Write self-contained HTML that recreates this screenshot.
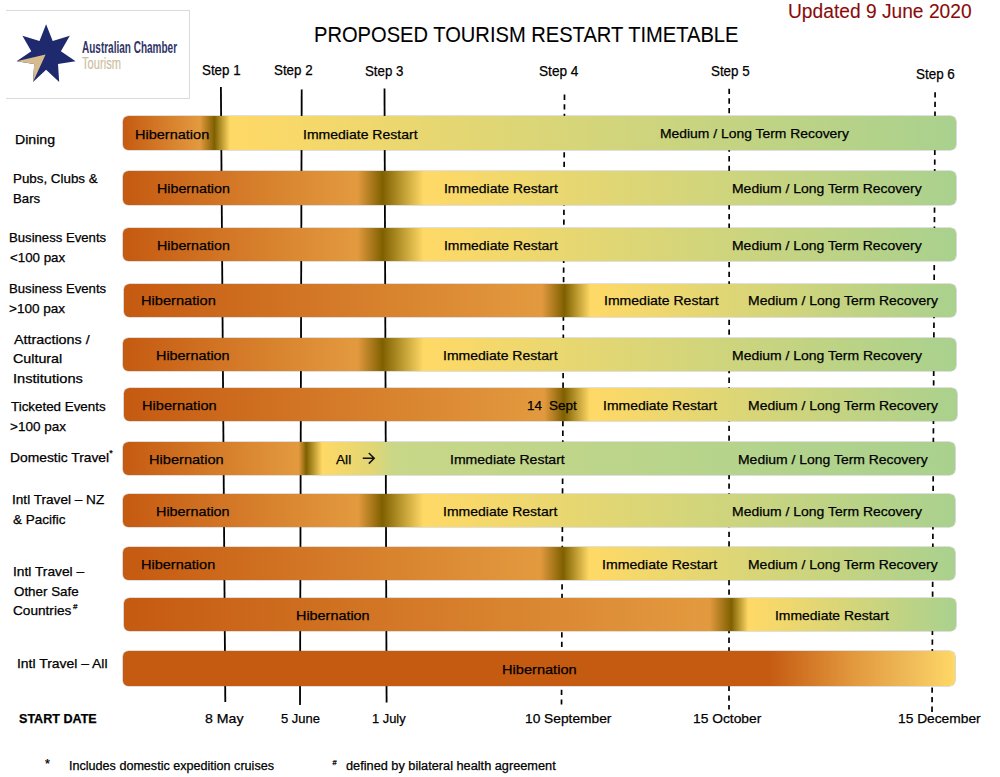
<!DOCTYPE html>
<html><head><meta charset="utf-8"><style>
html,body{margin:0;padding:0;background:#fff;width:1000px;height:777px;overflow:hidden;position:relative}
.t{position:absolute;font-family:"Liberation Sans", sans-serif;line-height:1;white-space:nowrap;color:#000;transform-origin:0 0;-webkit-text-stroke:0.25px currentColor}
.bar{position:absolute;border-radius:5.5px;box-shadow:0 0 0 0.6px rgba(110,110,110,0.45)}
</style></head><body>
<svg width="1000" height="777" style="position:absolute;left:0;top:0"><line x1="220.9" y1="87" x2="225.3" y2="702" stroke="#000" stroke-width="1.8"/><line x1="301.7" y1="89.5" x2="300" y2="705" stroke="#000" stroke-width="1.8"/><line x1="384.5" y1="88.5" x2="386.6" y2="702.5" stroke="#000" stroke-width="1.8"/><line x1="564.5" y1="94.6" x2="561.5" y2="704.5" stroke="#000" stroke-width="1.7" stroke-dasharray="5.3 4.30"/><line x1="729.2" y1="88.7" x2="729" y2="709.5" stroke="#000" stroke-width="1.7" stroke-dasharray="5.3 4.33"/><line x1="935.1" y1="92.2" x2="932" y2="716" stroke="#000" stroke-width="1.7" stroke-dasharray="5.3 4.30"/></svg><div class="bar" style="left:123px;top:116.4px;width:832.5px;height:33.4px;background:linear-gradient(90deg,#C55A11 0.0px,#E39A3F 77.0px,#7F6000 91.5px,#FFD966 107.0px,#A9D18E 833.0px)"></div><div class="bar" style="left:122.5px;top:171px;width:833.0px;height:33.8px;background:linear-gradient(90deg,#C55A11 0.0px,#E39A3F 234.5px,#7F6000 259.5px,#FFD966 300.5px,#A9D18E 833.5px)"></div><div class="bar" style="left:122.5px;top:228.2px;width:833.0px;height:33.3px;background:linear-gradient(90deg,#C55A11 0.0px,#E39A3F 234.5px,#7F6000 259.5px,#FFD966 300.5px,#A9D18E 833.5px)"></div><div class="bar" style="left:123.5px;top:283.5px;width:832.5px;height:33.5px;background:linear-gradient(90deg,#C55A11 0.0px,#E39A3F 417.5px,#7F6000 440.5px,#FFD966 466.5px,#A9D18E 833.0px)"></div><div class="bar" style="left:122.5px;top:337.6px;width:833.0px;height:33.4px;background:linear-gradient(90deg,#C55A11 0.0px,#E39A3F 234.5px,#7F6000 259.5px,#FFD966 300.5px,#A9D18E 833.5px)"></div><div class="bar" style="left:124px;top:388.3px;width:832.5px;height:33.0px;background:linear-gradient(90deg,#C55A11 0.0px,#E39A3F 420.0px,#7F6000 440.0px,#FFD966 466.0px,#A9D18E 833.0px)"></div><div class="bar" style="left:122.8px;top:441.7px;width:832.7px;height:33.3px;background:linear-gradient(90deg,#C55A11 0.0px,#E39A3F 175.7px,#7F6000 183.2px,#FFD966 199.2px,#E0D675 251.2px,#C8D788 271.2px,#A9D18E 833.2px)"></div><div class="bar" style="left:122.8px;top:493.8px;width:832.7px;height:33.0px;background:linear-gradient(90deg,#C55A11 0.0px,#E39A3F 235.2px,#7F6000 259.2px,#FFD966 300.2px,#A9D18E 833.2px)"></div><div class="bar" style="left:122.8px;top:546.7px;width:832.7px;height:33.3px;background:linear-gradient(90deg,#C55A11 0.0px,#E39A3F 417.2px,#7F6000 440.2px,#FFD966 466.2px,#A9D18E 833.2px)"></div><div class="bar" style="left:123.6px;top:597.6px;width:832.2px;height:33.4px;background:linear-gradient(90deg,#C55A11 0.0px,#E39A3F 585.4px,#7F6000 607.4px,#FFD966 624.4px,#A9D18E 832.7px)"></div><div class="bar" style="left:122.6px;top:651.4px;width:832.4px;height:34.8px;background:linear-gradient(90deg,#C55A11 0.0px,#C55A11 645.4px,#E39A3F 732.4px,#F0BC5A 789.4px,#FFD966 832.9px)"></div><svg width="14" height="13" style="position:absolute;left:362px;top:452px" viewBox="0 0 14 13"><path d="M0.8 6.3 H12 M6.8 1 L12.2 6.3 L6.8 11.6" fill="none" stroke="#111" stroke-width="1.5"/></svg><div class="t" style="left:109.3px;top:448.6px;font-size:9px">*</div><div class="t" style="left:73px;top:603px;font-size:8px">#</div><div class="t" style="left:45px;top:758.2px;font-size:12.5px">*</div><div class="t" style="left:332.6px;top:758.6px;font-size:7.5px">#</div><div style="position:absolute;left:6px;top:10px;width:183px;height:87px;border-top:1px solid #DADADA;border-bottom:1px solid #DADADA;border-right:1px solid #DADADA"></div>
<svg width="200" height="110" style="position:absolute;left:0;top:0"><polygon points="46.1,24.3 52.7,40.9 69.8,35.7 60.9,51.2 75.6,61.3 58.0,64.1 59.2,81.9 46.1,69.8 33.0,81.9 34.2,64.1 16.6,61.3 31.3,51.2 22.4,35.7 39.5,40.9" fill="#1F2A6E"/><polygon points="16.6,61.3 45.6,54.6 33.0,81.9 34.2,64.1" fill="#D6BC8C"/></svg>
<div class="t" style="left:82px;top:40.0px;font-size:16px;color:#2F3466;font-weight:bold;transform:scaleX(0.625);-webkit-text-stroke:0">Australian Chamber</div>
<div class="t" style="left:82px;top:55.0px;font-size:17px;color:#CDBE9C;transform:scaleX(0.655);-webkit-text-stroke:0.15px #CDBE9C">Tourism</div><div class="t" id="t0" style="left:314.29px;top:24.58px;font-size:21.5px;color:#000;font-weight:normal;transform:scaleX(0.9357);-webkit-text-stroke:0.1px currentColor;">PROPOSED TOURISM RESTART TIMETABLE</div><div class="t" id="t1" style="left:787.53px;top:1.45px;font-size:20px;color:#8B0A0A;font-weight:normal;transform:scaleX(0.9598);-webkit-text-stroke:0.1px currentColor;">Updated 9 June 2020</div><div class="t" id="t2" style="left:201.64px;top:63.25px;font-size:14px;color:#000;font-weight:normal;transform:scaleX(0.9542);">Step 1</div><div class="t" id="t3" style="left:273.65px;top:63.05px;font-size:14px;color:#000;font-weight:normal;transform:scaleX(0.9541);">Step 2</div><div class="t" id="t4" style="left:365.05px;top:64.05px;font-size:14px;color:#000;font-weight:normal;transform:scaleX(0.9487);">Step 3</div><div class="t" id="t5" style="left:539.03px;top:64.05px;font-size:14px;color:#000;font-weight:normal;transform:scaleX(0.9744);">Step 4</div><div class="t" id="t6" style="left:711.05px;top:64.05px;font-size:14px;color:#000;font-weight:normal;transform:scaleX(0.9542);">Step 5</div><div class="t" id="t7" style="left:915.56px;top:67.05px;font-size:14px;color:#000;font-weight:normal;transform:scaleX(0.9591);">Step 6</div><div class="t" id="t8" style="left:14.62px;top:133.20px;font-size:13px;color:#000;font-weight:normal;transform:scaleX(1.0857);">Dining</div><div class="t" id="t9" style="left:12.75px;top:172.30px;font-size:13px;color:#000;font-weight:normal;transform:scaleX(1.0272);">Pubs, Clubs &amp;</div><div class="t" id="t10" style="left:12.87px;top:191.90px;font-size:13px;color:#000;font-weight:normal;transform:scaleX(1.0162);">Bars</div><div class="t" id="t11" style="left:9.18px;top:231.20px;font-size:13px;color:#000;font-weight:normal;transform:scaleX(1.0107);">Business Events</div><div class="t" id="t12" style="left:10.17px;top:251.00px;font-size:13px;color:#000;font-weight:normal;transform:scaleX(1.0230);">&lt;100 pax</div><div class="t" id="t13" style="left:9.18px;top:282.10px;font-size:13px;color:#000;font-weight:normal;transform:scaleX(1.0107);">Business Events</div><div class="t" id="t14" style="left:9.19px;top:302.30px;font-size:13px;color:#000;font-weight:normal;transform:scaleX(1.0416);">&gt;100 pax</div><div class="t" id="t15" style="left:13.73px;top:333.00px;font-size:13px;color:#000;font-weight:normal;transform:scaleX(1.1031);">Attractions /</div><div class="t" id="t16" style="left:12.75px;top:352.40px;font-size:13px;color:#000;font-weight:normal;transform:scaleX(1.0979);">Cultural</div><div class="t" id="t17" style="left:12.73px;top:371.90px;font-size:13px;color:#000;font-weight:normal;transform:scaleX(1.1236);">Institutions</div><div class="t" id="t18" style="left:10.59px;top:400.10px;font-size:13px;color:#000;font-weight:normal;transform:scaleX(1.0287);">Ticketed Events</div><div class="t" id="t19" style="left:9.59px;top:419.90px;font-size:13px;color:#000;font-weight:normal;transform:scaleX(1.0377);">&gt;100 pax</div><div class="t" id="t20" style="left:9.52px;top:451.10px;font-size:13px;color:#000;font-weight:normal;transform:scaleX(1.0638);">Domestic Travel</div><div class="t" id="t21" style="left:12.42px;top:493.30px;font-size:13px;color:#000;font-weight:normal;transform:scaleX(1.0466);">Intl Travel – NZ</div><div class="t" id="t22" style="left:13.45px;top:513.10px;font-size:13px;color:#000;font-weight:normal;transform:scaleX(1.0367);">&amp; Pacific</div><div class="t" id="t23" style="left:12.81px;top:565.30px;font-size:13px;color:#000;font-weight:normal;transform:scaleX(1.0577);">Intl Travel –</div><div class="t" id="t24" style="left:13.88px;top:584.90px;font-size:13px;color:#000;font-weight:normal;transform:scaleX(1.0292);">Other Safe</div><div class="t" id="t25" style="left:12.89px;top:604.20px;font-size:13px;color:#000;font-weight:normal;transform:scaleX(1.0476);">Countries</div><div class="t" id="t26" style="left:16.80px;top:657.30px;font-size:13px;color:#000;font-weight:normal;transform:scaleX(1.0710);">Intl Travel – All</div><div class="t" id="t27" style="left:18.92px;top:712.87px;font-size:12.8px;color:#000;font-weight:bold;transform:scaleX(0.9819);">START DATE</div><div class="t" id="t28" style="left:205.19px;top:711.69px;font-size:13.6px;color:#000;font-weight:normal;transform:scaleX(1.0393);">8 May</div><div class="t" id="t29" style="left:280.64px;top:711.69px;font-size:13.6px;color:#000;font-weight:normal;transform:scaleX(0.9546);">5 June</div><div class="t" id="t30" style="left:371.56px;top:711.69px;font-size:13.6px;color:#000;font-weight:normal;transform:scaleX(0.9481);">1 July</div><div class="t" id="t31" style="left:525.48px;top:711.69px;font-size:13.6px;color:#000;font-weight:normal;transform:scaleX(1.0119);">10 September</div><div class="t" id="t32" style="left:693.48px;top:711.69px;font-size:13.6px;color:#000;font-weight:normal;transform:scaleX(1.0153);">15 October</div><div class="t" id="t33" style="left:897.99px;top:711.69px;font-size:13.6px;color:#000;font-weight:normal;transform:scaleX(1.0128);">15 December</div><div class="t" id="t34" style="left:68.99px;top:760.12px;font-size:12.5px;color:#000;font-weight:normal;transform:scaleX(1.0069);">Includes domestic expedition cruises</div><div class="t" id="t35" style="left:346.49px;top:760.12px;font-size:12.5px;color:#000;font-weight:normal;transform:scaleX(1.0195);">defined by bilateral health agreement</div><div class="t" id="t36" style="left:134.93px;top:127.59px;font-size:13.6px;color:#000;font-weight:normal;transform:scaleX(1.0678);">Hibernation</div><div class="t" id="t37" style="left:303.15px;top:127.59px;font-size:13.6px;color:#000;font-weight:normal;transform:scaleX(1.0313);">Immediate Restart</div><div class="t" id="t38" style="left:660.17px;top:127.29px;font-size:13.6px;color:#000;font-weight:normal;transform:scaleX(1.0219);">Medium / Long Term Recovery</div><div class="t" id="t39" style="left:156.72px;top:182.39px;font-size:13.6px;color:#000;font-weight:normal;transform:scaleX(1.0482);">Hibernation</div><div class="t" id="t40" style="left:443.97px;top:182.39px;font-size:13.6px;color:#000;font-weight:normal;transform:scaleX(1.0255);">Immediate Restart</div><div class="t" id="t41" style="left:732.38px;top:182.39px;font-size:13.6px;color:#000;font-weight:normal;transform:scaleX(1.0261);">Medium / Long Term Recovery</div><div class="t" id="t42" style="left:156.72px;top:239.09px;font-size:13.6px;color:#000;font-weight:normal;transform:scaleX(1.0482);">Hibernation</div><div class="t" id="t43" style="left:443.97px;top:239.09px;font-size:13.6px;color:#000;font-weight:normal;transform:scaleX(1.0255);">Immediate Restart</div><div class="t" id="t44" style="left:732.38px;top:239.09px;font-size:13.6px;color:#000;font-weight:normal;transform:scaleX(1.0261);">Medium / Long Term Recovery</div><div class="t" id="t45" style="left:140.92px;top:294.29px;font-size:13.6px;color:#000;font-weight:normal;transform:scaleX(1.0766);">Hibernation</div><div class="t" id="t46" style="left:603.56px;top:294.29px;font-size:13.6px;color:#000;font-weight:normal;transform:scaleX(1.0328);">Immediate Restart</div><div class="t" id="t47" style="left:747.97px;top:294.29px;font-size:13.6px;color:#000;font-weight:normal;transform:scaleX(1.0272);">Medium / Long Term Recovery</div><div class="t" id="t48" style="left:155.94px;top:348.69px;font-size:13.6px;color:#000;font-weight:normal;transform:scaleX(1.0588);">Hibernation</div><div class="t" id="t49" style="left:443.15px;top:348.69px;font-size:13.6px;color:#000;font-weight:normal;transform:scaleX(1.0313);">Immediate Restart</div><div class="t" id="t50" style="left:731.97px;top:348.69px;font-size:13.6px;color:#000;font-weight:normal;transform:scaleX(1.0272);">Medium / Long Term Recovery</div><div class="t" id="t51" style="left:142.04px;top:398.79px;font-size:13.6px;color:#000;font-weight:normal;transform:scaleX(1.0737);">Hibernation</div><div class="t" id="t52" style="left:526.64px;top:398.79px;font-size:13.6px;color:#000;font-weight:normal;transform:scaleX(0.9878);">14</div><div class="t" id="t53" style="left:548.82px;top:398.79px;font-size:13.6px;color:#000;font-weight:normal;transform:scaleX(0.9945);">Sept</div><div class="t" id="t54" style="left:603.46px;top:398.79px;font-size:13.6px;color:#000;font-weight:normal;transform:scaleX(1.0277);">Immediate Restart</div><div class="t" id="t55" style="left:747.97px;top:398.79px;font-size:13.6px;color:#000;font-weight:normal;transform:scaleX(1.0272);">Medium / Long Term Recovery</div><div class="t" id="t56" style="left:149.35px;top:452.99px;font-size:13.6px;color:#000;font-weight:normal;transform:scaleX(1.0737);">Hibernation</div><div class="t" id="t57" style="left:336.00px;top:452.99px;font-size:13.6px;color:#000;font-weight:normal;transform:scaleX(1.0045);">All</div><div class="t" id="t58" style="left:450.44px;top:452.99px;font-size:13.6px;color:#000;font-weight:normal;transform:scaleX(1.0332);">Immediate Restart</div><div class="t" id="t59" style="left:738.16px;top:452.99px;font-size:13.6px;color:#000;font-weight:normal;transform:scaleX(1.0263);">Medium / Long Term Recovery</div><div class="t" id="t60" style="left:155.94px;top:504.69px;font-size:13.6px;color:#000;font-weight:normal;transform:scaleX(1.0588);">Hibernation</div><div class="t" id="t61" style="left:443.16px;top:504.69px;font-size:13.6px;color:#000;font-weight:normal;transform:scaleX(1.0295);">Immediate Restart</div><div class="t" id="t62" style="left:731.97px;top:504.69px;font-size:13.6px;color:#000;font-weight:normal;transform:scaleX(1.0272);">Medium / Long Term Recovery</div><div class="t" id="t63" style="left:140.52px;top:557.79px;font-size:13.6px;color:#000;font-weight:normal;transform:scaleX(1.0677);">Hibernation</div><div class="t" id="t64" style="left:602.37px;top:557.79px;font-size:13.6px;color:#000;font-weight:normal;transform:scaleX(1.0364);">Immediate Restart</div><div class="t" id="t65" style="left:747.76px;top:557.79px;font-size:13.6px;color:#000;font-weight:normal;transform:scaleX(1.0263);">Medium / Long Term Recovery</div><div class="t" id="t66" style="left:296.35px;top:608.89px;font-size:13.6px;color:#000;font-weight:normal;transform:scaleX(1.0588);">Hibernation</div><div class="t" id="t67" style="left:774.97px;top:608.89px;font-size:13.6px;color:#000;font-weight:normal;transform:scaleX(1.0255);">Immediate Restart</div><div class="t" id="t68" style="left:501.93px;top:662.69px;font-size:13.6px;color:#000;font-weight:normal;transform:scaleX(1.0737);">Hibernation</div>
</body></html>
